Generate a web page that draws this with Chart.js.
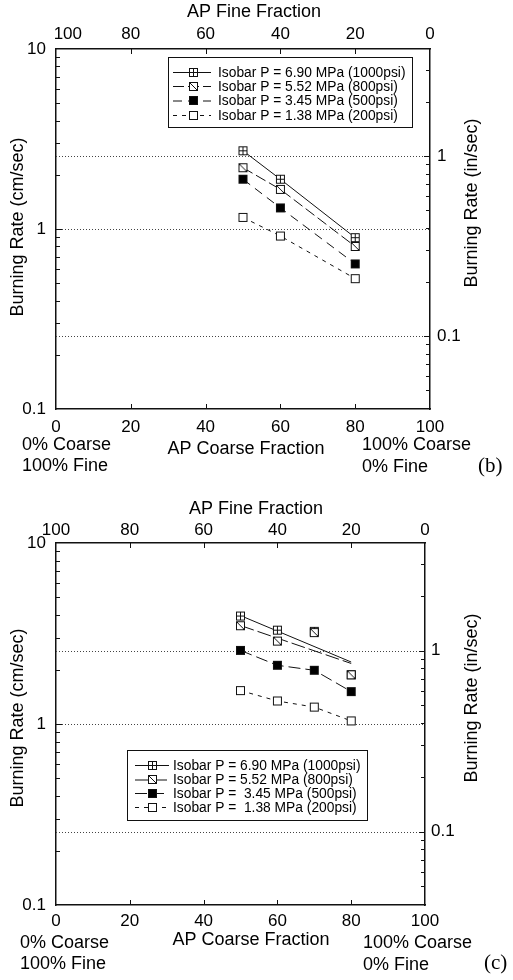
<!DOCTYPE html>
<html>
<head>
<meta charset="utf-8">
<script src="https://cdn.jsdelivr.net/npm/chart.js@4.4.1/dist/chart.umd.min.js"></script>
<style>
  html,body{margin:0;padding:0;background:#fff;}
  #wrap{position:relative;width:513px;height:980px;}
  canvas{position:absolute;left:0;}
</style>
</head>
<body>
<div id="wrap">
  <canvas id="chartB" width="513" height="490" style="top:0;width:513px;height:490px"></canvas>
  <canvas id="chartC" width="513" height="490" style="top:490px;width:513px;height:490px"></canvas>
</div>
<script>
// ---------------- DATA ----------------
// Panel (b)
const coarseB = [50, 60, 80];
const rateB1000 = [2.72, 1.89, 0.895];
const rateB800  = [2.19, 1.66, 0.80];
const rateB500  = [1.89, 1.31, 0.64];
const rateB200  = [1.16, 0.914, 0.53];

// Panel (c)
const coarseC = [50, 60, 70, 80];
const rateC1000 = [3.95, 3.30, 3.25, 1.87];
const rateC800  = [3.49, 2.87, 3.20, 1.87];
const rateC500  = [2.55, 2.11, 1.98, 1.51];
const rateC200  = [1.53, 1.34, 1.24, 1.04];
// fitted trend lines drawn in panel (c) for the two highest pressures
const fitC = [50, 80];
const fitC1000 = [3.97, 2.20];
const fitC800  = [3.50, 2.16];

// tick labels
const coarseTicks = [0, 20, 40, 60, 80, 100];
const fineTicks = [100, 80, 60, 40, 20, 0];
const cmTicks = [0.1, 1, 10];
const inTicks = [0.1, 1];
const CM_PER_IN = 2.54;

const legendB = [
  'Isobar P = 6.90 MPa (1000psi)',
  'Isobar P = 5.52 MPa (800psi)',
  'Isobar P = 3.45 MPa (500psi)',
  'Isobar P = 1.38 MPa (200psi)'
];
const legendC = [
  'Isobar P = 6.90 MPa (1000psi)',
  'Isobar P = 5.52 MPa (800psi)',
  'Isobar P =  3.45 MPa (500psi)',
  'Isobar P =  1.38 MPa (200psi)'
];

// ---------------- MARKERS ----------------
function marker(kind){
  const c = document.createElement('canvas');
  c.width = 11; c.height = 11;
  const g = c.getContext('2d');
  g.fillStyle = kind === 'filled' ? '#000' : '#fff';
  g.fillRect(1, 1, 9, 9);
  g.strokeStyle = '#111';
  g.lineWidth = 1;
  g.strokeRect(1.5, 1.5, 8, 8);
  g.beginPath();
  if (kind === 'grid') {
    g.moveTo(5.5, 1.5); g.lineTo(5.5, 9.5);
    g.moveTo(1.5, 5.5); g.lineTo(9.5, 5.5);
  } else if (kind === 'diag') {
    g.moveTo(1.5, 1.5); g.lineTo(9.5, 9.5);
  }
  g.stroke();
  return c;
}
const MK = [marker('grid'), marker('diag'), marker('filled'), marker('open')];

const FONT = '"Liberation Sans", Arial, sans-serif';
const INK = '#111';

function pts(xs, ys){ return xs.map((x, i) => ({x: x, y: ys[i]})); }

// ---------------- PLUGINS ----------------
const refLines = {
  id: 'refLines',
  beforeDatasetsDraw(chart){
    const {ctx, chartArea: a, scales} = chart;
    ctx.save();
    ctx.strokeStyle = '#444';
    ctx.lineWidth = 1;
    ctx.setLineDash([1, 2]);
    const ys = [scales.y.getPixelForValue(1), scales.y2.getPixelForValue(1), scales.y2.getPixelForValue(0.1)];
    ys.forEach(y => {
      y = Math.round(y) + 0.5;
      ctx.beginPath(); ctx.moveTo(a.left, y); ctx.lineTo(a.right, y); ctx.stroke();
    });
    ctx.restore();
  }
};

const innerTicks = {
  id: 'innerTicks',
  afterDraw(chart){
    const {ctx, chartArea: a, scales} = chart;
    ctx.save();
    ctx.strokeStyle = INK;
    ctx.lineWidth = 1;
    [20, 40, 60, 80].forEach(v => {
      const xb = Math.round(scales.x.getPixelForValue(v)) + 0.5;
      ctx.beginPath(); ctx.moveTo(xb, a.bottom); ctx.lineTo(xb, a.bottom - 5); ctx.stroke();
      const xt = Math.round(scales.x2.getPixelForValue(100 - v)) + 0.5;
      ctx.beginPath(); ctx.moveTo(xt, a.top); ctx.lineTo(xt, a.top + 5); ctx.stroke();
    });
    [0.1, 1].forEach(d => {
      for (let k = 2; k <= 9; k++) {
        const y = Math.round(scales.y.getPixelForValue(d * k)) + 0.5;
        ctx.beginPath(); ctx.moveTo(a.left, y); ctx.lineTo(a.left + 4, y); ctx.stroke();
      }
    });
    {
      const y = Math.round(scales.y.getPixelForValue(1)) + 0.5;
      ctx.beginPath(); ctx.moveTo(a.left, y); ctx.lineTo(a.left + 6, y); ctx.stroke();
    }
    const lo = scales.y2.min, hi = scales.y2.max;
    [0.01, 0.1, 1].forEach(d => {
      for (let k = 2; k <= 9; k++) {
        const v = d * k;
        if (v <= lo || v >= hi) continue;
        const y = Math.round(scales.y2.getPixelForValue(v)) + 0.5;
        ctx.beginPath(); ctx.moveTo(a.right, y); ctx.lineTo(a.right - 4, y); ctx.stroke();
      }
    });
    inTicks.forEach(v => {
      const y = Math.round(scales.y2.getPixelForValue(v)) + 0.5;
      ctx.beginPath(); ctx.moveTo(a.right, y); ctx.lineTo(a.right - 6, y); ctx.stroke();
    });
    ctx.restore();
  }
};

const boxLegend = {
  id: 'boxLegend',
  afterDraw(chart, args, o){
    if (!o || !o.labels) return;
    const ctx = chart.ctx;
    ctx.save();
    ctx.fillStyle = '#fff';
    ctx.fillRect(o.x0, o.y0, o.x1 - o.x0, o.y1 - o.y0);
    ctx.strokeStyle = INK;
    ctx.lineWidth = 1;
    ctx.strokeRect(o.x0 + 0.5, o.y0 + 0.5, o.x1 - o.x0, o.y1 - o.y0);
    o.labels.forEach((t, i) => {
      const y = o.rows[i];
      const ds = chart.data.datasets[i];
      ctx.setLineDash(ds.borderDash || []);
      ctx.strokeStyle = INK;
      ctx.beginPath(); ctx.moveTo(o.lx0, y + 0.5); ctx.lineTo(o.lx1, y + 0.5); ctx.stroke();
      ctx.setLineDash([]);
      const m = MK[i];
      ctx.drawImage(m, Math.round(o.mx - m.width / 2), Math.round(y - m.height / 2));
      ctx.fillStyle = '#000';
      ctx.font = o.font;
      ctx.textBaseline = 'middle';
      ctx.textAlign = 'left';
      ctx.fillText(t, o.tx, y + 1);
    });
    ctx.restore();
  }
};

const texts = {
  id: 'texts',
  afterDraw(chart, args, o){
    if (!o || !o.items) return;
    const ctx = chart.ctx;
    ctx.save();
    ctx.fillStyle = '#000';
    ctx.textBaseline = 'middle';
    o.items.forEach(it => {
      ctx.save();
      ctx.font = it.font || ('18px ' + FONT);
      ctx.textAlign = it.align || 'left';
      ctx.translate(it.x, it.y);
      if (it.rot) ctx.rotate(it.rot);
      ctx.fillText(it.t, 0, 0);
      ctx.restore();
    });
    ctx.restore();
  }
};

// ---------------- CHART FACTORY ----------------
function makeChart(id, datasets, L, legendOpts, textItems){
  const tickFont = {family: FONT, size: 17};
  const border = {display: true, color: INK, width: 1.5};
  return new Chart(document.getElementById(id), {
    type: 'scatter',
    data: {datasets},
    options: {
      responsive: false,
      animation: false,
      devicePixelRatio: 1,
      layout: {padding: 0},
      plugins: {
        legend: {display: false},
        tooltip: {enabled: false},
        boxLegend: legendOpts,
        texts: {items: textItems}
      },
      scales: {
        x: {
          type: 'linear', position: 'bottom', min: 0, max: 100,
          grid: {display: false, drawTicks: false}, border,
          afterBuildTicks: s => { s.ticks = coarseTicks.map(v => ({value: v})); },
          ticks: {font: tickFont, color: '#000', padding: L.xPad, maxRotation: 0, autoSkip: false, callback: v => String(v)},
          afterFit: s => { s.height = L.h - L.bottom; }
        },
        x2: {
          type: 'linear', position: 'top', min: 0, max: 100, reverse: true,
          grid: {display: false, drawTicks: false}, border,
          afterBuildTicks: s => { s.ticks = fineTicks.map(v => ({value: v})); },
          ticks: {font: tickFont, color: '#000', padding: L.x2Pad, maxRotation: 0, autoSkip: false,
                  callback: v => (v === 100 && L.shift100) ? '     100' : String(v)},
          afterFit: s => { s.height = L.top; }
        },
        y: {
          type: 'logarithmic', position: 'left', min: 0.1, max: 10,
          grid: {display: false, drawTicks: false}, border,
          afterBuildTicks: s => { s.ticks = cmTicks.map(v => ({value: v})); },
          ticks: {font: tickFont, color: '#000', padding: 10, autoSkip: false, callback: v => String(v)},
          afterFit: s => { s.width = L.left; }
        },
        y2: {
          type: 'logarithmic', position: 'right', min: 0.1 / CM_PER_IN, max: 10 / CM_PER_IN,
          grid: {display: false, drawTicks: false}, border,
          afterBuildTicks: s => { s.ticks = inTicks.map(v => ({value: v})); },
          ticks: {font: tickFont, color: '#000', padding: L.y2Pad, autoSkip: false, callback: v => String(v)},
          afterFit: s => { s.width = 513 - L.right; }
        }
      }
    },
    plugins: [refLines, innerTicks, boxLegend, texts]
  });
}

function series(i, data, dash, showLine, order){
  return {
    data, xAxisID: 'x', yAxisID: 'y',
    showLine, borderColor: INK, borderWidth: 1, borderDash: dash,
    pointStyle: MK[i], pointRadius: 5, pointHoverRadius: 5,
    backgroundColor: '#fff', order: order || 0
  };
}
function trend(data, dash){
  return {
    data, xAxisID: 'x', yAxisID: 'y',
    showLine: true, borderColor: INK, borderWidth: 1, borderDash: dash,
    pointRadius: 0, pointHoverRadius: 0, order: 5
  };
}

const DASH = [[], [11, 4], [9, 6], [4, 5]];

// ---------------- PANEL (b) ----------------
makeChart('chartB', [
  series(0, pts(coarseB, rateB1000), DASH[0], true),
  series(1, pts(coarseB, rateB800), DASH[1], true),
  series(2, pts(coarseB, rateB500), DASH[2], true),
  series(3, pts(coarseB, rateB200), DASH[3], true)
], {h: 490, top: 49, bottom: 409, left: 56, right: 430, xPad: 8, x2Pad: 4, y2Pad: 7, shift100: true},
{
  labels: legendB, x0: 168, y0: 57, x1: 412, y1: 127,
  rows: [72, 86, 100.5, 115], lx0: 173, lx1: 211, mx: 193, tx: 218,
  font: '13.8px ' + FONT
},
[
  {t: 'AP Fine Fraction', x: 254, y: 12, align: 'center'},
  {t: 'Burning Rate (cm/sec)', x: 18, y: 227, align: 'center', rot: -Math.PI / 2},
  {t: 'Burning Rate (in/sec)', x: 472, y: 203, align: 'center', rot: -Math.PI / 2},
  {t: '0% Coarse', x: 22, y: 445},
  {t: '100% Fine', x: 22, y: 466},
  {t: 'AP Coarse Fraction', x: 246, y: 449, align: 'center'},
  {t: '100% Coarse', x: 362, y: 445},
  {t: '0% Fine', x: 362, y: 467},
  {t: '(b)', x: 478, y: 466, font: '21px "Liberation Serif", "Times New Roman", serif'}
]);

// ---------------- PANEL (c) ----------------
makeChart('chartC', [
  series(0, pts(coarseC, rateC1000), DASH[0], false, 2),
  series(1, pts(coarseC, rateC800), [14, 4], false, 1),
  series(2, pts(coarseC, rateC500), [12, 5], true, 0),
  series(3, pts(coarseC, rateC200), DASH[3], true, 0),
  trend(pts(fitC, fitC1000), DASH[0]),
  trend(pts(fitC, fitC800), [14, 4])
], {h: 490, top: 53, bottom: 415, left: 56, right: 425, xPad: 6, x2Pad: 2, y2Pad: 6, shift100: false},
{
  labels: legendC, x0: 127, y0: 260, x1: 367, y1: 330,
  rows: [275, 289.5, 303, 317], lx0: 135, lx1: 169, mx: 152, tx: 173,
  font: '13.8px ' + FONT
},
[
  {t: 'AP Fine Fraction', x: 256, y: 19, align: 'center'},
  {t: 'Burning Rate (cm/sec)', x: 18, y: 228, align: 'center', rot: -Math.PI / 2},
  {t: 'Burning Rate (in/sec)', x: 472, y: 208, align: 'center', rot: -Math.PI / 2},
  {t: '0% Coarse', x: 20, y: 453},
  {t: '100% Fine', x: 20, y: 474},
  {t: 'AP Coarse Fraction', x: 251, y: 450, align: 'center'},
  {t: '100% Coarse', x: 363, y: 453},
  {t: '0% Fine', x: 363, y: 475},
  {t: '(c)', x: 484, y: 473, font: '21px "Liberation Serif", "Times New Roman", serif'}
]);
</script>
</body>
</html>
